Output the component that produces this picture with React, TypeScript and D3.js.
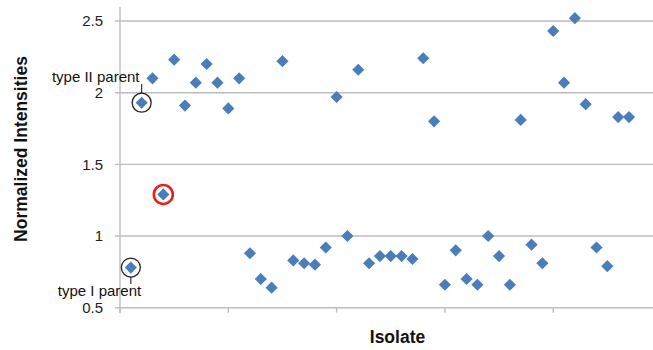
import React from 'react';
import * as d3 from 'd3';

// normalized intensity per isolate (isolate index 1..47)
const isolates = d3.range(1, 48);
const intensities = [
	0.78, 1.93, 2.1, 1.29, 2.23, 1.91, 2.07, 2.2, 2.07, 1.89, 2.1, 0.88, 0.7,
	0.64, 2.22, 0.83, 0.81, 0.8, 0.92, 1.97, 1.0, 2.16, 0.81, 0.86, 0.86, 0.86,
	0.84, 2.24, 1.8, 0.66, 0.9, 0.7, 0.66, 1.0, 0.86, 0.66, 1.81, 0.94, 0.81,
	2.43, 2.07, 2.52, 1.92, 0.92, 0.79, 1.83, 1.83,
];
const yTicks = [0.5, 1, 1.5, 2, 2.5];
const xTicks = [0, 10, 20, 30, 40, 50];

// annotated isolates
const typeOneParent = 1;
const typeTwoParent = 2;
const highlighted = 4;

const W = 653;
const H = 350;

const App: React.FC = () => {
	const x = d3.scaleLinear().domain([0, 50]).range([120, 661.5]);
	const y = d3.scaleLinear().domain([0.5, 2.5]).range([307.7, 21]);
	const diamond = d3.symbol(d3.symbolSquare, 74)();
	const fmt = (v: number) => (Number.isInteger(v) ? String(v) : String(v));

	const val = (i: number) => intensities[i - 1];

	return (
		<svg
			width={W}
			height={H}
			style={{ position: 'absolute', left: 0, top: 0, background: '#fff' }}
			fontFamily="'Liberation Sans', Arial, sans-serif">
			{/* gridlines */}
			{yTicks.map((t) => (
				<line
					key={t}
					x1={115}
					x2={W}
					y1={y(t)}
					y2={y(t)}
					stroke="#bdbdbd"
					strokeWidth={1.4}
				/>
			))}
			{/* y axis */}
			<line x1={x(0)} x2={x(0)} y1={7} y2={313} stroke="#bdbdbd" strokeWidth={1.4} />
			{/* x ticks */}
			{xTicks.map((t) => (
				<line
					key={t}
					x1={x(t)}
					x2={x(t)}
					y1={y(0.5)}
					y2={y(0.5) + 5}
					stroke="#bdbdbd"
					strokeWidth={1.4}
				/>
			))}
			{yTicks.map((t) => (
				<text
					key={t}
					x={103}
					y={y(t)}
					dy="0.36em"
					textAnchor="end"
					fontSize={15}
					fill="#222">
					{fmt(t)}
				</text>
			))}
			<text
				transform="translate(27,149) rotate(-90)"
				textAnchor="middle"
				fontSize={17.5}
				fontWeight="bold"
				fill="#111">
				Normalized Intensities
			</text>
			<text x={397.5} y={343.3} textAnchor="middle" fontSize={17.5} fontWeight="bold" fill="#111">
				Isolate
			</text>

			{/* points */}
			{isolates.map((d, i) => (
				<path
					key={d}
					d={diamond as string}
					transform={`translate(${x(d)},${y(intensities[i])}) rotate(45)`}
					fill="#4a7ebb"
				/>
			))}

			{/* parent annotations */}
			<circle
				cx={x(typeTwoParent)}
				cy={y(val(typeTwoParent))}
				r={9.5}
				fill="none"
				stroke="#222"
				strokeWidth={1.3}
			/>
			<line
				x1={x(typeTwoParent)}
				x2={x(typeTwoParent)}
				y1={84}
				y2={y(val(typeTwoParent)) - 9.5}
				stroke="#222"
				strokeWidth={1.1}
			/>
			<text x={139.5} y={82} textAnchor="end" fontSize={15} fill="#111">
				type II parent
			</text>

			<circle
				cx={x(typeOneParent)}
				cy={y(val(typeOneParent))}
				r={9.5}
				fill="none"
				stroke="#222"
				strokeWidth={1.3}
			/>
			<line
				x1={x(typeOneParent)}
				x2={x(typeOneParent)}
				y1={y(val(typeOneParent)) + 9.5}
				y2={284}
				stroke="#222"
				strokeWidth={1.1}
			/>
			<text x={99.5} y={295.7} textAnchor="middle" fontSize={15} fill="#111">
				type I parent
			</text>

			<circle
				cx={x(highlighted)}
				cy={y(val(highlighted))}
				r={9.5}
				fill="none"
				stroke="#e8231a"
				strokeWidth={2.6}
			/>
		</svg>
	);
};

export default App;
